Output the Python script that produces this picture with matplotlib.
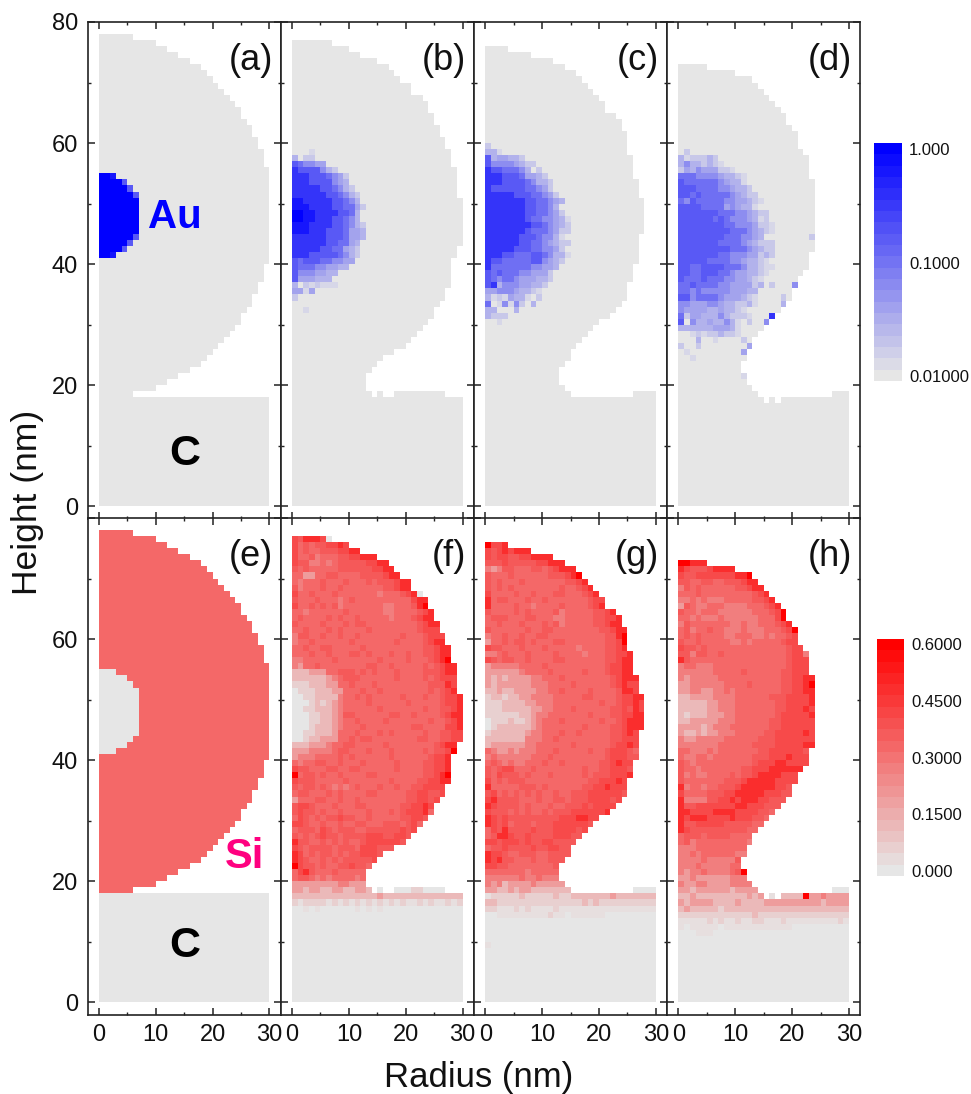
import numpy as np
import matplotlib
matplotlib.use('Agg')
import matplotlib.pyplot as plt
from matplotlib.colors import LinearSegmentedColormap, LogNorm, Normalize

plt.rcParams['font.family'] = ['Liberation Sans', 'DejaVu Sans']

panel_labels = ['(a)', '(b)', '(c)', '(d)', '(e)', '(f)', '(g)', '(h)']
blue_ticks = [1.0, 0.1, 0.01]
blue_tick_labels = ['1.000', '0.1000', '0.01000']
red_ticks = [0.6, 0.45, 0.3, 0.15, 0.0]
red_tick_labels = ['0.6000', '0.4500', '0.3000', '0.1500', '0.000']

# what the level characters in the rows below stand for
si_levels = {'0': 0.0, 'a': 0.03, '1': 0.06, '2': 0.12, '3': 0.19, '4': 0.27,
             '5': 0.32, '6': 0.36, '7': 0.41, '8': 0.47, '9': 0.6}
au_levels = {'1': 0.0145, '2': 0.019, '3': 0.029, '4': 0.042, '5': 0.063,
             '6': 0.1, '7': 0.17, '8': 0.34, '9': 0.62, 'f': 1.0}

# right edge of the droplet in (a)/(e), row 77 first, down to row 18
edge_start = [6, 10, 12, 14, 16, 18, 19, 20, 21, 22, 23, 24, 25, 25, 26, 27, 27, 28, 28, 29, 29, 29,
              30, 30, 30, 30, 30, 30, 30, 30, 30, 30, 30, 30, 30, 30, 30, 30,
              29, 29, 29, 28, 28, 27, 27, 26, 25, 25, 24, 23, 22, 21, 20, 19, 18, 16, 14, 12, 10, 6]
si_start = 0.32

# gold particle in (a), row 54 first
au_start = ['ff9', 'ffff7', 'fffff7', 'ffffff7', 'fffffff', 'fffffff', 'fffffff',
            'fffffff', 'fffffff', 'fffffff', 'ffffff7', 'fffff7', 'ffff7', 'ff9']
au_start_top = 54

# silicon, levels 0 a 1..9, '.' is empty, top row first
si_f_top = 76
si_f = [
    '76888 70', '75656 67787', '75655 66677 88', '75564 55566 77888', '76644 54566 66677 88',
    '65655 55566 66667 788', '55335 56655 55666 6788', '54555 65556 55565 66678 8',
    '64555 65565 55555 56678 8', '75565 55655 55555 45556 780', '65556 55545 65555 55555 5788',
    '75565 65645 55555 54455 5689', '55455 55556 55555 54455 55678', '56555 56565 56555 55455 56788',
    '65555 65556 56655 55555 55678 8', '55655 56565 55565 55555 55677 7',
    '46655 65565 56555 55556 55567 77', '45565 55555 65555 55565 55567 88',
    '55655 66555 55655 55555 55566 788', '55565 56555 66565 55655 65566 788',
    '44555 55655 55555 65555 65556 789', '43556 55555 55566 55655 55565 6788',
    '22233 35566 65656 55565 55566 6788', '22222 23456 66555 55565 55565 6777',
    '11122 23355 65556 55555 55556 6687', '01112 22335 55655 65555 55556 5678',
    '00112 22245 56565 55556 55565 56778', '00012 12345 55565 55555 65555 56778',
    '00112 22345 55555 65555 55565 56678', '00011 22346 65555 55665 56555 56788',
    '00011 22345 56555 56555 55556 55678', '00012 22345 55655 55555 56655 55778',
    '00112 22355 56555 65655 55565 56677', '00122 33355 65665 55555 55665 56677',
    '22233 34556 65555 56555 55555 6788', '33344 44566 55565 55655 55565 6679',
    '34445 55565 65555 55655 55556 778', '54556 65565 55655 55565 55566 778',
    '76655 56655 66555 55565 55566 778', '95665 65565 55566 55555 55566 789',
    '76665 55556 55555 55655 55667 788', '65665 65454 56555 65565 56677 77',
    '56655 56565 55566 55555 66776 67', '35556 65565 56555 55555 66776 7',
    '67765 55655 56655 55556 67787', '67665 65565 55565 55656 77785',
    '57656 56676 65565 55556 6776', '77655 65565 56655 56665 675',
    '56665 76566 65566 66667 67', '65656 76656 66677 76677 6', '86655 65656 55677 77776',
    '76566 66566 65777 666', '87565 66565 66777 6', '87655 65656 66667', '97665 65566 7665',
    '57865 55655 555', '56654 54555 545', '33333 33344 333',
    '33233 22332 2332. 0..00 01100 00', '22222 22222 22222 32222 22222 22222',
    '1a111 1a1a1 a1a1a 1a1a1 aa1a1 aa1a1', '00a0a 00000 0a0a0 a0000',
]

si_g_top = 75
si_g = [
    '9778', '76787 888', '76776 67788 88', '66676 66667 7888', '43466 55566 56788 8',
    '65556 55555 56667 89', '65655 56555 55556 678', '65656 55555 55565 5678',
    '75555 65565 55665 55678', '85665 55655 65555 55567 7', '85555 65545 55565 55567 8',
    '65555 65655 55645 55556 678', '56665 55665 55445 55556 6778', '55655 56555 65645 55556 6788',
    '65555 55655 66555 55555 66788', '45565 56556 65555 55555 56689',
    '35565 66565 55665 55555 56679', '76655 56555 65555 54555 56678',
    '44565 55655 55655 55455 56677 8', '76566 55655 55665 55555 56678 8',
    '34444 45555 65555 55555 56778 8', '33333 34555 56555 55655 56778 8',
    '32323 33344 55565 55555 55678 88', '32333 33344 45555 65555 55678 77',
    '22322 33334 45565 55565 55568 87', '12212 23344 44555 55665 55567 788',
    '11122 22334 44555 55555 65567 787', '11122 22233 44555 65555 55667 687',
    '11111 12234 45555 55565 55667 788', '01112 11234 55565 55555 65567 888',
    '01222 22234 55555 55655 55667 888', '12222 22344 55565 56555 55667 87',
    '22222 22444 55655 55555 55667 77', '23333 33445 55555 65555 55677 87',
    '54334 34445 55655 55565 56777 65', '45444 44455 56555 55555 56777 66',
    '56545 44555 65565 55555 66787 7', '65677 55565 55555 55655 66777 6',
    '65766 65655 56555 55656 66777 8', '75656 66555 55555 55566 77787',
    '85555 56665 65555 55667 78777', '67565 65656 55655 66677 77776',
    '78666 65556 55665 66677 7767', '87666 65655 56556 66767 777',
    '76665 65655 65666 77777 78', '87676 66666 66677 78877', '87675 66656 66777 7776',
    '57686 66676 66777 767', '56887 66766 66777 66', '77677 76766 77666 6',
    '56676 66676 67766', '87765 56665 56666', '87866 55565 5666', '77665 55555 556',
    '55555 55455 555', '44444 45445 444', '43423 33343 3333',
    '33223 23322 22222 ..... ...... 0000', 'a1111 12111 11211 22222 22322 22222',
    '22111 11111 11111 11212 11111 11111', '11aaa 1a1aa aa1aa aaaaa aaaaa aaaaa',
    '00aaa aaaaa a1aa0 aaaaa a0000 00000', '', '', '', '', 'a',
]

si_h_top = 72
si_h = [
    '99888', '87666 78888', '76677 77777 889', '66556 65566 6788', '46565 55555 66788',
    '55565 55555 55567 8', '44545 44455 55566 78', '36544 55544 44555 678',
    '65545 55444 44455 5679', '55454 44544 44445 5579', '46555 55554 45445 55678',
    '56455 65544 45444 55567 9', '56565 55544 55544 54556 7', '65565 55554 45455 55567 7',
    '76656 55555 55555 55556 77', '66466 55655 55555 55556 774', '86555 55555 55555 55556 777',
    '45544 45555 55555 55556 777', '44444 45555 56555 55566 777',
    '43444 44555 55555 55566 7788', '33444 44455 55655 55566 7789',
    '33443 34454 55555 55566 7788', '22333 34444 55555 56667 7778',
    '22222 33444 55555 55667 7778', '22222 33444 55555 55667 7787',
    '21222 33344 55555 55677 7778', '22333 33444 55555 56677 7777',
    '33332 34445 55555 56677 7777', '32232 33444 55555 66777 7787',
    '43344 44455 55556 66777 7777', '44444 44555 55566 66777 7788',
    '55444 54555 55556 67777 776', '54455 45555 55566 67778 777',
    '65455 55555 55567 77887 777', '65545 55555 56677 78888 88',
    '64544 55556 56678 88877 7', '65555 55566 67888 88777 7', '84554 55666 78888 88776',
    '75555 66677 88888 77766', '84444 66778 78887 7666', '86677 77777 88777 666',
    '88777 78888 77776 65', '87888 77778 77766 5', '86677 77766 66655', '87666 66666 6655',
    '56665 66665 555', '56455 55555 554', '44455 55555 55', '44545 55555 44',
    '44445 44444 6', '44454 44445 5', '43445 44445 69', '33433 33334 44', '43344 33334 444',
    '33233 33332 3333 ..... ..... ... 000', '22322 22222 22323 .a. 22229 33433 33',
    '32333 32222 32222 33333 33333 23333', '23222 22122 22222 22222 22222 22222',
    '11111 11111 11121 11111 11111 11111', 'aaaaa 1a1aa 1aa11 aaa1a aaaaa aaa1a',
    'a0aaa aa0aa aaaaa aaaaa', '000aa a',
]

# gold, levels 0..9, top row first, 0 is the grey background
au_b_top = 58
au_b = [
    '00010', '30220', '76554 4', '87777 532', '88877 76542', '88877 77543', '88888 77653 2',
    '88888 87765 32', '99888 88776 53', '99988 88776 642', 'ff998 88877 63', 'ff998 88776 53',
    '99988 88776 532', '99988 87776 443', '88888 87776 443', '88888 87766 43', '88888 77664 32',
    '88877 77765 32', '76777 66554 4', '76665 54433', '75554 433', '74443 33', '30212 111',
    '44140', '2', '', '001',
]

au_c_top = 59
au_c = [
    '2', '331', '73443 32', '75555 4322', '87766 65302', '88877 76443 2', '88877 77653 32',
    '87777 77665 42', '88888 77766 542', '88888 88776 6543', '88888 88776 653',
    '88888 88776 6542', '88888 88766 55431', '88888 88877 65432', '88888 88766 65422',
    '88888 87776 5531', '88888 87766 54322', '88888 77766 5542', '88877 66677 65331',
    '87766 66677 5432', '86666 66655 443', '76766 65544 42', '76566 54443 32', '78355 54433 2',
    '44555 43321', '31214 33102', '60151 52 03', '33000 3', '3222', '001',
]

au_d_top = 58
au_d = [
    '02', '31222 32', '35332 321', '24354 44221', '66655 55433 21', '76666 66543 31',
    '77766 66554 332', '77676 66665 4322', '65766 66655 44321', '77776 66645 4331',
    '77777 77666 55432 2', '77777 76765 55431 2', '77777 77766 55542 21', '77777 77776 66543 21',
    '77777 77766 65543 00000 0002', '77777 77666 65432 22', '77777 77776 66543 22',
    '77777 77665 55442 32', '77777 66665 54332 1', '77667 77766 65332 11', '77667 77665 44332 1',
    '76667 66655 44321', '66766 66554 44423 02000 5', '66565 55554 4433',
    '77566 66544 43210 0002', '55444 55433 22310 0003', '54444 33433 21',
    '62443 33532 22100 08', '70533 43353 10200 5', '33333 34443 1', '00121 22322 1',
    '00030 01000 02', '20020 00000 004', '01000 00000 04', '001', '', '', '00000 00000 01',
]


def read_si(rows, top):
    grid = np.full((78, 30), np.nan)
    for i, row in enumerate(rows):
        for col, ch in enumerate(row.replace(' ', '')):
            if ch != '.':
                grid[top - i, col] = si_levels[ch]
    low = grid[:17]
    low[np.isnan(low)] = 0.0
    return grid


def read_au(si_grid, rows, top):
    grid = np.where(np.isnan(si_grid), np.nan, 0.01)
    for i, row in enumerate(rows):
        for col, ch in enumerate(row.replace(' ', '')):
            if ch != '0':
                grid[top - i, col] = au_levels[ch]
    return grid


# the untouched droplet of the first column
grid_e = np.full((78, 30), np.nan)
grid_e[:18, :] = 0.0
for i, n in enumerate(edge_start):
    grid_e[77 - i, :n] = si_start
grid_a = np.where(np.isnan(grid_e), np.nan, 0.01)
for i, row in enumerate(au_start):
    grid_e[au_start_top - i, :len(row)] = 0.0
    for col, ch in enumerate(row):
        grid_a[au_start_top - i, col] = au_levels[ch]

grid_f = read_si(si_f, si_f_top)
grid_g = read_si(si_g, si_g_top)
grid_h = read_si(si_h, si_h_top)
grid_b = read_au(grid_f, au_b, au_b_top)
grid_c = read_au(grid_g, au_c, au_c_top)
grid_d = read_au(grid_h, au_d, au_d_top)

blue_cmap = LinearSegmentedColormap.from_list('au', ['#e6e6e6', '#0000ff'], N=32)
red_cmap = LinearSegmentedColormap.from_list('si', ['#e6e6e6', '#ff0000'], N=32)
blue_bar = LinearSegmentedColormap.from_list('au_bar', ['#e6e6e6', '#0000ff'], N=21)
red_bar = LinearSegmentedColormap.from_list('si_bar', ['#e6e6e6', '#ff0000'], N=21)
blue_norm = LogNorm(vmin=0.01, vmax=1)
red_norm = Normalize(vmin=0, vmax=0.6)

W, H = 971.0, 1094.0
fig = plt.figure(figsize=(9.71, 10.94), dpi=100)

x_edges = np.arange(31)
y_edges = np.arange(79)
lefts = [87.5, 280.7, 473.9, 667.1]
axes = []
for row, (top_px, grids, cmap, norm) in enumerate([
        (22, [grid_a, grid_b, grid_c, grid_d], blue_cmap, blue_norm),
        (518, [grid_e, grid_f, grid_g, grid_h], red_cmap, red_norm)]):
    for col in range(4):
        ax = fig.add_axes([lefts[col] / W, (H - top_px - 496.5) / H, 193.2 / W, 496.5 / H])
        ax.pcolormesh(x_edges, y_edges, np.ma.masked_invalid(grids[col]), cmap=cmap, norm=norm)
        ax.set_xlim(-2, 32)
        ax.set_ylim(-2, 80)
        ax.set_xticks([0, 10, 20, 30])
        ax.set_xticks([5, 15, 25], minor=True)
        ax.set_yticks([0, 20, 40, 60, 80])
        ax.set_yticks([10, 30, 50, 70], minor=True)
        ax.tick_params(which='major', direction='in', top=True, right=True, length=5, width=1.1,
                       labelsize=17, pad=7, color='#222222', labelcolor='#111111')
        ax.tick_params(which='minor', direction='in', top=True, right=True, length=2.5, width=1.0,
                       color='#222222')
        for s in ax.spines.values():
            s.set_linewidth(1.2)
            s.set_color('#222222')
        if row == 0:
            ax.set_xticklabels([])
        if col > 0:
            ax.set_yticklabels([])
        elif row == 1:
            ax.set_yticklabels(['0', '20', '40', '60', ''])
        ax.text(30.6, 73.7, panel_labels[row * 4 + col], fontsize=26, ha='right', va='center', color='#111111')
        axes.append(ax)

axes[0].text(13.4, 47.8, 'Au', fontsize=29, fontweight='bold', color='#0000ff', ha='center', va='center')
axes[0].text(15.2, 8.6, 'C', fontsize=31, fontweight='bold', color='black', ha='center', va='center')
axes[4].text(15.2, 9.3, 'C', fontsize=31, fontweight='bold', color='black', ha='center', va='center')
axes[4].text(25.7, 24, 'Si', fontsize=30, fontweight='bold', color='#ff0080', ha='center', va='center')

fig.text(28 / W, 1 - 502 / H, 'Height (nm)', fontsize=25.5, rotation=90, ha='center', va='center', color='#111111')
fig.text(479 / W, 1 - 1078 / H, 'Radius (nm)', fontsize=25, ha='center', va='center', color='#111111')

# colour bars
cax = fig.add_axes([874 / W, (H - 381) / H, 28 / W, 238 / H])
cax.pcolormesh([0, 1], np.linspace(-2.044, 0.053, 22), np.linspace(0, 1, 21)[:, None], cmap=blue_bar, vmin=0, vmax=1)
cax.set_ylim(-2.044, 0.053)
cax.set_xticks([])
cax.yaxis.tick_right()
cax.set_yticks(np.log10(blue_ticks))
cax.set_yticklabels(blue_tick_labels)
cax.tick_params(length=0, labelsize=12, pad=5, labelcolor='#111111')
for s in cax.spines.values():
    s.set_visible(False)

cax = fig.add_axes([877 / W, (H - 876) / H, 27 / W, 237 / H])
cax.pcolormesh([0, 1], np.linspace(-0.0132, 0.6132, 22), np.linspace(0, 1, 21)[:, None], cmap=red_bar, vmin=0, vmax=1)
cax.set_ylim(-0.0132, 0.6132)
cax.set_xticks([])
cax.yaxis.tick_right()
cax.set_yticks(red_ticks)
cax.set_yticklabels(red_tick_labels)
cax.tick_params(length=0, labelsize=12, pad=5.5, labelcolor='#111111')
for s in cax.spines.values():
    s.set_visible(False)

fig.savefig('out.png', dpi=100)
plt.close(fig)
